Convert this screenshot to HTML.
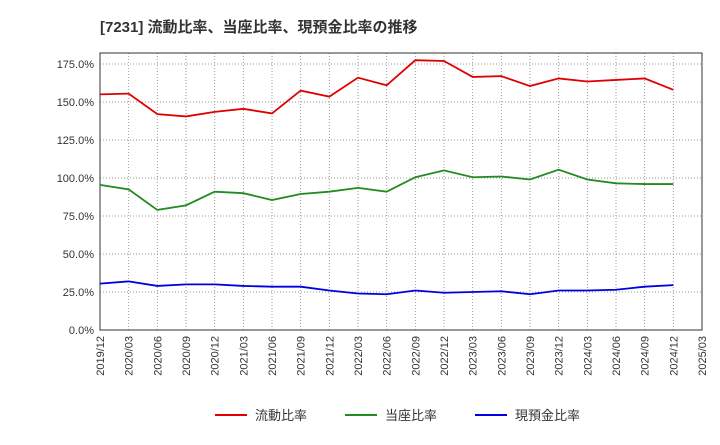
<!DOCTYPE html>
<html><head><meta charset="utf-8"><style>
body{margin:0;background:#fff;font-family:"Liberation Sans","Noto Sans CJK JP",sans-serif;}
</style></head><body>
<svg id="c" width="720" height="440" xmlns="http://www.w3.org/2000/svg">
<text x="100" y="32" font-size="15" font-weight="bold" fill="#333" font-family="Liberation Sans, Noto Sans CJK JP, sans-serif">[7231]  流動比率、当座比率、現預金比率の推移</text>
<g id="grid"></g><g id="axes"></g><g id="series"></g><g id="legend"></g>
</svg>
<script>
const categories=["2019/12","2020/03","2020/06","2020/09","2020/12","2021/03","2021/06","2021/09","2021/12","2022/03","2022/06","2022/09","2022/12","2023/03","2023/06","2023/09","2023/12","2024/03","2024/06","2024/09","2024/12","2025/03"];
const currentRatio=[155,155.5,142,140.5,143.5,145.5,142.5,157.5,153.5,166,161,177.5,177,166.5,167,160.5,165.5,163.5,164.5,165.5,158];
const quickRatio=[95.5,92.5,79,82,91,90,85.5,89.5,91,93.5,91,100.5,105,100.5,101,99,105.5,99,96.5,96,96];
const cashRatio=[30.5,32,29,30,30,29,28.5,28.5,26,24,23.5,26,24.5,25,25.5,23.5,26,26,26.5,28.5,29.5];
const yTicks=[0,25,50,75,100,125,150,175];
const seriesNames=["流動比率","当座比率","現預金比率"];
const colors=["#e00000","#228b22","#0000e0"];
const L=100,R=702,T=53,B=330;
const x=i=>L+(R-L)*i/(categories.length-1);
const y=v=>B-(v/175)*(B-64);
const NS="http://www.w3.org/2000/svg";
function mk(tag,attrs,parent,text){const e=document.createElementNS(NS,tag);for(const k in attrs)e.setAttribute(k,attrs[k]);if(text!==undefined)e.textContent=text;parent.appendChild(e);return e;}
const grid=document.getElementById('grid'),axes=document.getElementById('axes'),series=document.getElementById('series'),legend=document.getElementById('legend');
categories.forEach((c,i)=>{
 const l=mk('line',{x1:x(i),x2:x(i),y1:T,y2:B,stroke:'#999','stroke-dasharray':'1,2','stroke-width':1},grid);
 
 
 const t=mk('text',{x:0,y:0,'font-size':11,fill:'#333','text-anchor':'end',transform:`translate(${x(i)+4},${B+6}) rotate(-90)`},axes,c);
 
 
});
yTicks.forEach(v=>{
 const l=mk('line',{x1:L,x2:R,y1:y(v),y2:y(v),stroke:'#999','stroke-dasharray':'1,2','stroke-width':1},grid);
 
 
 const t=mk('text',{x:L-6,y:y(v)+4,'font-size':11,fill:'#333','text-anchor':'end'},axes,v.toFixed(1)+'%');
 
 
});
const frame=mk('rect',{x:L,y:T,width:R-L,height:B-T,fill:'none',stroke:'#333','stroke-width':1},axes);


[currentRatio,quickRatio,cashRatio].forEach((d,s)=>{
 const p=mk('polyline',{points:d.map((v,i)=>x(i)+','+y(v)).join(' '),fill:'none',stroke:colors[s],'stroke-width':1.8},series);
 
 
});
const lx=[215,345,475];
seriesNames.forEach((n,s)=>{
 const g=mk('g',{},legend);
 
 
 mk('line',{x1:lx[s],x2:lx[s]+32,y1:415,y2:415,stroke:colors[s],'stroke-width':2},g);
 mk('text',{x:lx[s]+40,y:420,'font-size':13,fill:'#333'},g,n);
});
</script>
</body></html>
